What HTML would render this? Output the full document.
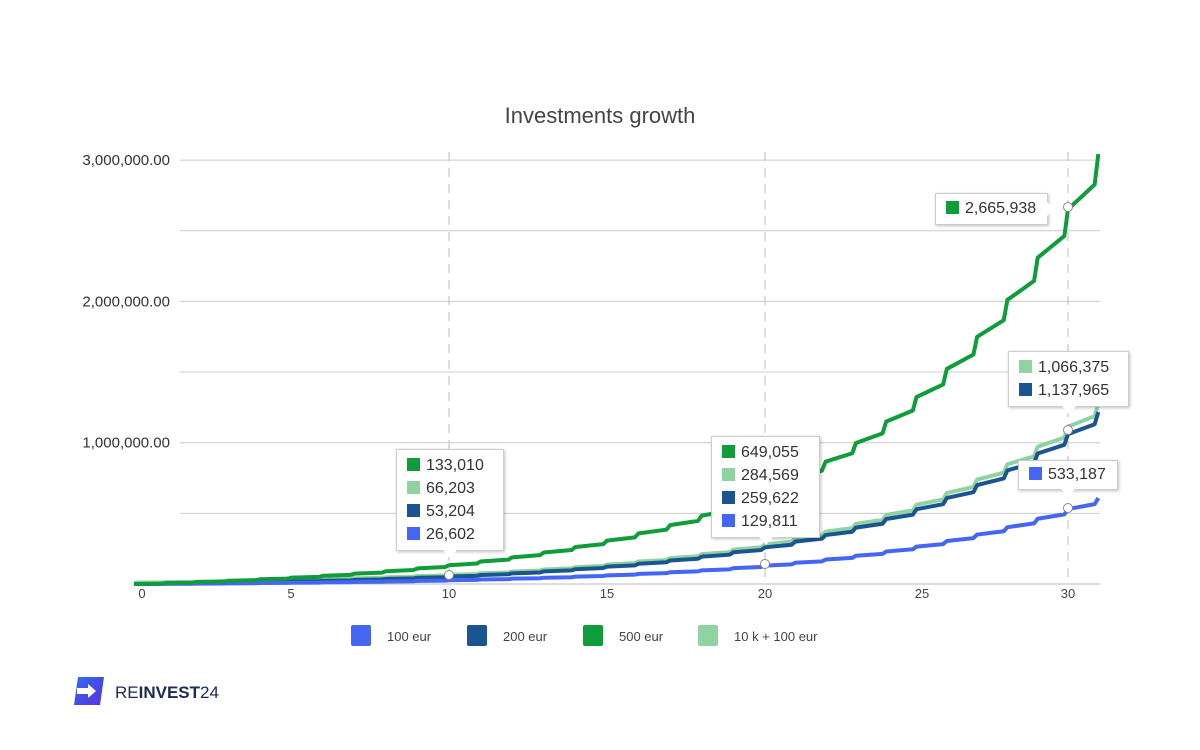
<!DOCTYPE html><html><head><meta charset="utf-8"><style>
body{margin:0;background:#fff;font-family:"Liberation Sans",sans-serif}
.tt{position:absolute;background:#fff;border:1px solid #ccc;box-shadow:1px 1px 3px rgba(0,0,0,.25);font-size:16px;color:#333;padding:4px 10px;line-height:23px}
.tt i{display:inline-block;width:13px;height:13px;margin-right:6px;vertical-align:-1px}
.tt:after{content:"";position:absolute;left:50%;bottom:-8px;margin-left:-7px;border-left:7px solid transparent;border-right:7px solid transparent;border-top:8px solid #fff}
.tt.r:after{left:auto;right:-8px;bottom:auto;top:50%;margin-top:-7px;margin-left:0;border-top:7px solid transparent;border-bottom:7px solid transparent;border-left:8px solid #fff;border-right:none}
</style></head><body>
<div style="position:relative;width:1200px;height:750px;overflow:hidden">
<svg id="s" width="1200" height="750" style="position:absolute;left:0;top:0" font-family="Liberation Sans, sans-serif"></svg>
<div class="tt" style="left:396px;top:449px;width:86px"><i style="background:#0f9d3a"></i>133,010<br><i style="background:#8fd3a0"></i>66,203<br><i style="background:#1a5592"></i>53,204<br><i style="background:#4466f2"></i>26,602</div>
<div class="tt" style="left:711px;top:436px;width:87px"><i style="background:#0f9d3a"></i>649,055<br><i style="background:#8fd3a0"></i>284,569<br><i style="background:#1a5592"></i>259,622<br><i style="background:#4466f2"></i>129,811</div>
<div class="tt r" style="left:935px;top:193px;width:91px;line-height:22px"><i style="background:#0f9d3a"></i>2,665,938</div>
<div class="tt" style="left:1008px;top:351px;width:99px"><i style="background:#8fd3a0"></i>1,066,375<br><i style="background:#1a5592"></i>1,137,965</div>
<div class="tt" style="left:1018px;top:460px;width:78px;line-height:20px"><i style="background:#4466f2"></i>533,187</div>
</div>
<script>
const s=document.getElementById('s');let h='';
const Y=v=>584-v*141.3e-6;
h+='<text x="600" y="123" text-anchor="middle" font-size="22" fill="#444">Investments growth</text>';
[0,.5,1,1.5,2,2.5,3].forEach(m=>{const y=Y(m*1e6);h+=`<line x1="180" x2="1100" y1="${y}" y2="${y}" stroke="#ccc"/>`;});
[[3,'3,000,000.00'],[2,'2,000,000.00'],[1,'1,000,000.00']].forEach(([m,l])=>h+=`<text x="170" y="${Y(m*1e6)+5}" text-anchor="end" font-size="15" fill="#333">${l}</text>`);
h+=`<line x1="134" x2="1100" y1="584" y2="584" stroke="#bbb"/>`;
[449,765,1068].forEach(x=>h+=`<line x1="${x}" x2="${x}" y1="152" y2="584" stroke="#bbb" stroke-dasharray="9,7"/>`);
[[0,142],[5,291],[10,449],[15,607],[20,765],[25,922],[30,1068]].forEach(([t,x])=>h+=`<text x="${x}" y="598" text-anchor="middle" font-size="13" fill="#444">${t}</text>`);
const g=1.1452,XX=t=>t<=10?134+t*31.5:t<=20?449+(t-10)*31.6:765+(t-20)*30.3;
const ser=[[9237,0,'#4466f2'],[18474,0,'#1a5592'],[10000,9237,'#8fd3a0'],[46184,0,'#0f9d3a']];
function f(i,t){const [a,b]=ser[i];return i==2?a*Math.pow(g,t)+b*(Math.pow(g,t)-1):a*(Math.pow(g,t)-1);}
[2,1,0,3].forEach(i=>{let p=`M${XX(0)},${Y(f(i,0))}`;for(let k=0;k<31;k++){const a=f(i,k),b=f(i,k+1);p+=` L${XX(k+0.88)},${Y(a+0.45*(b-a))} L${XX(k+1)},${Y(b)}`;}
h+=`<path d="${p}" fill="none" stroke="${ser[i][2]}" stroke-width="4" stroke-linejoin="round"/>`;});
[[449,575],[765,564],[1068,207],[1068,430],[1068,508]].forEach(([x,y])=>h+=`<circle cx="${x}" cy="${y}" r="4.5" fill="#fff" stroke="#888"/>`);
[[351,'#4466f2','100 eur'],[467,'#1a5592','200 eur'],[583,'#0f9d3a','500 eur'],[698,'#8fd3a0','10 k + 100 eur']].forEach(([x,c,l])=>h+=`<rect x="${x}" y="625" width="20" height="21" rx="2" fill="${c}"/><text x="${x+36}" y="641" font-size="13" fill="#444">${l}</text>`);
h+='<defs><linearGradient id="lg" x1="0" y1="0" x2="1" y2="1"><stop offset="0" stop-color="#2f6df0"/><stop offset="1" stop-color="#5a2fe0"/></linearGradient></defs>';
h+='<path d="M78,677 H104 L100,705 H74 Z" fill="url(#lg)"/><path d="M77,688 H88 V684 L96,691 L88,698 V694 H77 Z" fill="#fff"/>';
h+='<text x="115" y="698" font-size="17" fill="#1a2a5a">RE<tspan font-weight="bold">INVEST</tspan>24</text>';
s.innerHTML=h;
</script></body></html>
